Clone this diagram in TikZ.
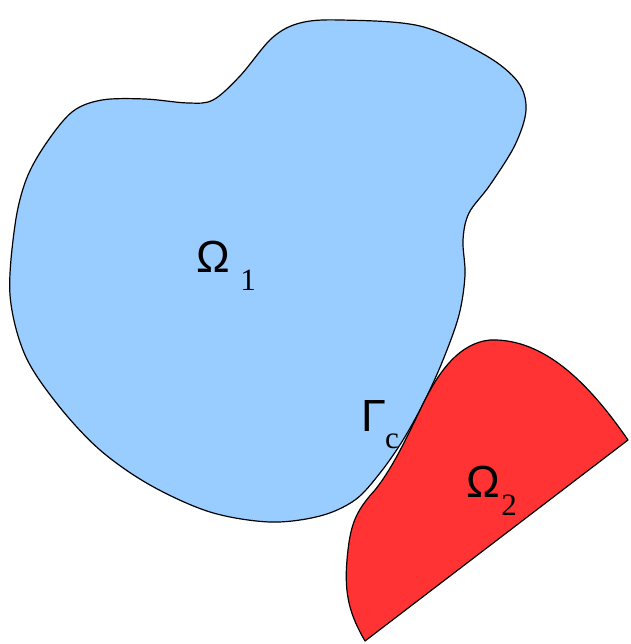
\documentclass[tikz,border=0pt]{standalone}
\usepackage{fontspec}
\setmainfont{Liberation Serif}
\newfontfamily\symfont{Liberation Sans}
\definecolor{regblue}{RGB}{153,204,255}
\definecolor{regred}{RGB}{255,51,51}
\begin{document}
\begin{tikzpicture}[x=1pt,y=-1pt,
  region/.style={draw=black,line width=1.2pt,line join=round},
  biglabel/.style={font=\symfont\fontsize{45}{48}\selectfont,inner sep=0pt},
  sublabel/.style={font=\fontsize{31}{34}\selectfont,inner sep=0pt}]
\useasboundingbox (0,0) rectangle (630,644);
\fill[regblue] plot[smooth cycle,tension=0.55] coordinates {
 (213,100) (240,76) (272,38) (300,23) (340,20) (420,26) (485,55) (518,82)
 (526,110) (515,145) (490,185) (469,213) (463,240) (465,275) (459,315)
 (443,360) (424,402) (403,440) (380,473) (355,500) (320,516) (270,522)
 (210,512) (150,485) (100,450) (58,405) (25,355) (10,295) (15,225) (26,180)
 (45,145) (72,112) (102,100) (145,99) (188,103)};
\draw[region] plot[smooth cycle,tension=0.55] coordinates {
 (213,100) (240,76) (272,38) (300,23) (340,20) (420,26) (485,55) (518,82)
 (526,110) (515,145) (490,185) (469,213) (463,240) (465,275) (459,315)
 (443,360) (424,402) (403,440) (380,473) (355,500) (320,516) (270,522)
 (210,512) (150,485) (100,450) (58,405) (25,355) (10,295) (15,225) (26,180)
 (45,145) (72,112) (102,100) (145,99) (188,103)};
\coordinate (rtop) at (490,340);
\coordinate (rbot) at (365,641);
\coordinate (rright) at (628,440);
\path[region,fill=regred] (rbot) -- (rright)
  .. controls (590,385) and (545,338) .. (rtop)
  .. controls (460,343) and (440,370) .. (425,400)
  .. controls (410,430) and (395,465) .. (375,490)
  .. controls (355,512) and (350,525) .. (347,560)
  .. controls (344,595) and (350,615) .. (rbot) -- cycle;
\node[biglabel] (o1) at (213,257) {Ω};
\node[sublabel] (s1) at (248,280) {1};
\node[biglabel] (g) at (374,416) {Γ};
\node[sublabel] (sc) at (392,441) {c};
\node[biglabel] (o2) at (483,482) {Ω};
\node[sublabel] (s2) at (509,505) {2};
\end{tikzpicture}
\end{document}
